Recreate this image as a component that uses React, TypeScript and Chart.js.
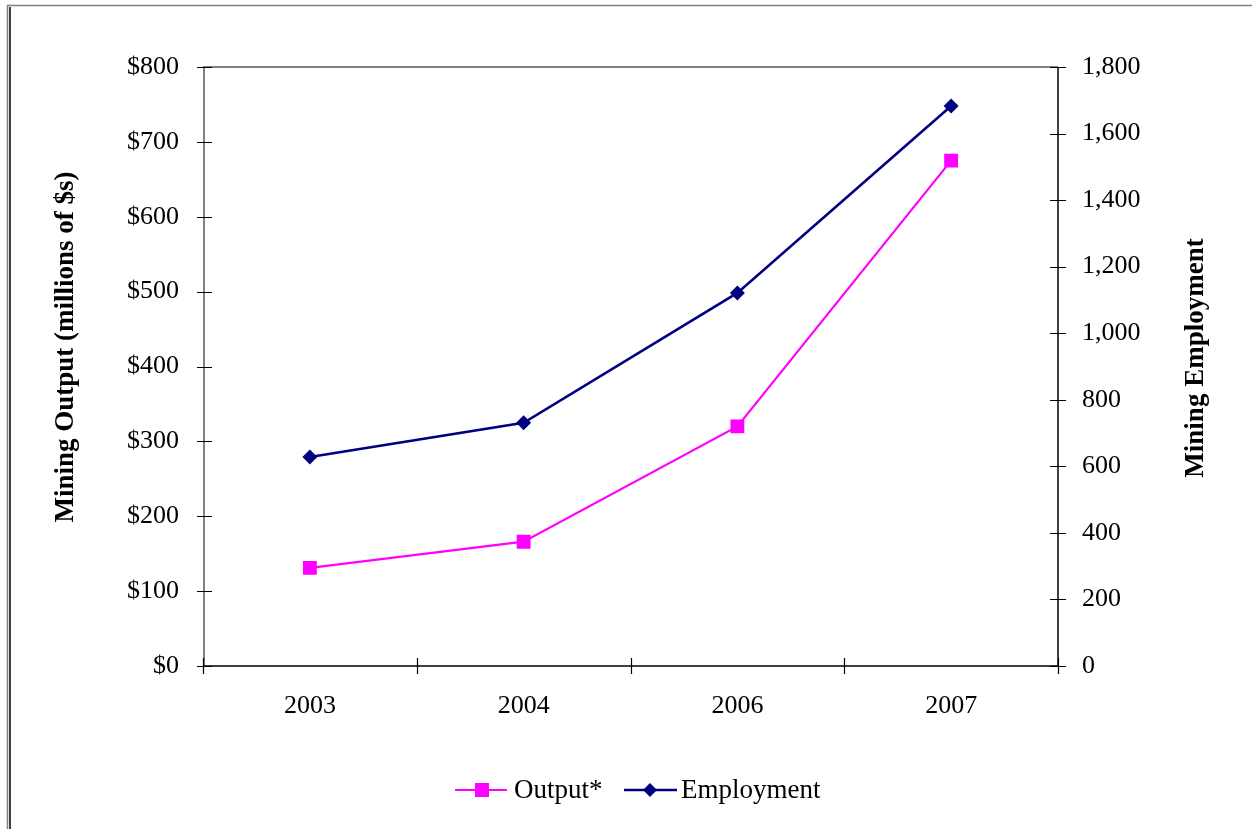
import React, { useEffect, useRef } from "react";
import { Chart, registerables } from "chart.js";

Chart.register(...registerables);

const categories: string[] = ["2003", "2004", "2006", "2007"];
const outputValues: number[] = [131, 166, 320, 675];
const employmentValues: number[] = [628, 731, 1121, 1683];
const leftTitle = "Mining Output (millions of $s)";
const rightTitle = "Mining Employment";
const outputLabel = "Output*";
const employmentLabel = "Employment";

const MAGENTA = "#FF00FF";
const NAVY = "#000080";
const FONT = "'Liberation Serif', 'Times New Roman', serif";

const decorPlugin = {
  id: "decor",
  beforeDraw(chart: any) {
    const ctx = chart.ctx;
    ctx.save();
    ctx.fillStyle = "#ffffff";
    ctx.fillRect(0, 0, chart.width, chart.height);
    // outer frame
    ctx.strokeStyle = "#7f7f7f";
    ctx.lineWidth = 1.5;
    ctx.beginPath();
    ctx.moveTo(7.5, chart.height);
    ctx.lineTo(7.5, 5.5);
    ctx.lineTo(1252, 5.5);
    ctx.stroke();
    ctx.strokeStyle = "#000000";
    ctx.lineWidth = 1.5;
    ctx.beginPath();
    ctx.moveTo(10, 7);
    ctx.lineTo(10, chart.height);
    ctx.stroke();
    ctx.restore();
  },
  afterDatasetsDraw(chart: any) {
    const ctx = chart.ctx;
    const { left, right, top, bottom } = chart.chartArea;
    const xs = chart.scales.x;
    const yl = chart.scales.y;
    const yr = chart.scales.y1;
    ctx.save();
    // plot area border (gray top / left)
    ctx.strokeStyle = "#808080";
    ctx.lineWidth = 2;
    ctx.beginPath();
    ctx.moveTo(left + 1, bottom);
    ctx.lineTo(left + 1, top);
    ctx.lineTo(right, top);
    ctx.stroke();
    // right & bottom axis lines
    ctx.strokeStyle = "#000000";
    ctx.lineWidth = 1.5;
    ctx.beginPath();
    ctx.moveTo(right, top);
    ctx.lineTo(right, bottom);
    ctx.moveTo(left, bottom);
    ctx.lineTo(right + 1, bottom);
    ctx.stroke();
    // ticks
    ctx.lineWidth = 1.2;
    ctx.beginPath();
    yl.ticks.forEach((t: any) => {
      const y = Math.round(yl.getPixelForValue(t.value)) + 0.5;
      ctx.moveTo(left - 6, y);
      ctx.lineTo(left + 9, y);
    });
    yr.ticks.forEach((t: any) => {
      const y = Math.round(yr.getPixelForValue(t.value)) + 0.5;
      ctx.moveTo(right - 8, y);
      ctx.lineTo(right + 8, y);
    });
    for (let i = 0; i <= categories.length; i++) {
      const x = Math.round(xs.getPixelForValue(i - 0.5)) + 0.5;
      ctx.moveTo(x, bottom - 8);
      ctx.lineTo(x, bottom + 8);
    }
    ctx.stroke();

    // axis titles
    ctx.fillStyle = "#000000";
    ctx.font = `bold 27px ${FONT}`;
    ctx.textAlign = "center";
    ctx.textBaseline = "middle";
    ctx.save();
    ctx.translate(66, 347);
    ctx.rotate(-Math.PI / 2);
    ctx.fillText(leftTitle, 0, 0);
    ctx.restore();
    ctx.save();
    ctx.translate(1196, 358);
    ctx.rotate(-Math.PI / 2);
    ctx.fillText(rightTitle, 0, 0);
    ctx.restore();

    // legend
    const ly = 790;
    ctx.font = `27px ${FONT}`;
    ctx.textAlign = "left";
    ctx.lineWidth = 2;
    ctx.strokeStyle = MAGENTA;
    ctx.beginPath();
    ctx.moveTo(455, ly);
    ctx.lineTo(507, ly);
    ctx.stroke();
    ctx.fillStyle = MAGENTA;
    ctx.fillRect(475, ly - 7, 14, 14);
    ctx.fillStyle = "#000000";
    ctx.fillText(outputLabel, 514, ly + 1);

    ctx.strokeStyle = NAVY;
    ctx.lineWidth = 2.5;
    ctx.beginPath();
    ctx.moveTo(624, ly);
    ctx.lineTo(677, ly);
    ctx.stroke();
    ctx.fillStyle = NAVY;
    ctx.beginPath();
    ctx.moveTo(650, ly - 7);
    ctx.lineTo(657, ly);
    ctx.lineTo(650, ly + 7);
    ctx.lineTo(643, ly);
    ctx.closePath();
    ctx.fill();
    ctx.fillStyle = "#000000";
    ctx.fillText(employmentLabel, 681, ly + 1);
    ctx.restore();
  },
};

export default function App() {
  const ref = useRef<HTMLCanvasElement>(null);
  useEffect(() => {
    if (!ref.current) return;
    const chart = new Chart(ref.current, {
      type: "line",
      data: {
        labels: categories,
        datasets: [
          {
            label: outputLabel,
            data: outputValues,
            yAxisID: "y",
            borderColor: MAGENTA,
            backgroundColor: MAGENTA,
            borderWidth: 2.2,
            pointStyle: "rect",
            pointRadius: 9.8,
            pointBorderWidth: 0,
            pointBackgroundColor: MAGENTA,
            tension: 0,
          },
          {
            label: employmentLabel,
            data: employmentValues,
            yAxisID: "y1",
            borderColor: NAVY,
            backgroundColor: NAVY,
            borderWidth: 2.6,
            pointStyle: "rectRot",
            pointRadius: 7.5,
            pointBorderWidth: 0,
            pointBackgroundColor: NAVY,
            tension: 0,
          },
        ],
      },
      options: {
        animation: false,
        responsive: false,
        maintainAspectRatio: false,
        layout: { padding: { top: 67, left: 0, right: 0, bottom: 0 } },
        plugins: {
          legend: { display: false },
          tooltip: { enabled: false },
          title: { display: false },
        },
        scales: {
          x: {
            type: "category",
            offset: true,
            grid: { display: false, drawTicks: false },
            border: { display: false },
            ticks: {
              color: "#000",
              font: { family: FONT, size: 26 },
              padding: 25,
              maxRotation: 0,
            },
            afterFit: (s: any) => {
              s.height = 829 - 666;
            },
          },
          y: {
            position: "left",
            min: 0,
            max: 800,
            grid: { display: false, drawTicks: false },
            border: { display: false },
            ticks: {
              stepSize: 100,
              color: "#000",
              font: { family: FONT, size: 26 },
              padding: 24,
              callback: (v: any) => "$" + v,
            },
            afterFit: (s: any) => {
              s.width = 203;
            },
          },
          y1: {
            position: "right",
            min: 0,
            max: 1800,
            grid: { display: false, drawTicks: false },
            border: { display: false },
            ticks: {
              stepSize: 200,
              color: "#000",
              font: { family: FONT, size: 26 },
              padding: 24,
              callback: (v: any) => Number(v).toLocaleString("en-US"),
            },
            afterFit: (s: any) => {
              s.width = 1255 - 1058;
            },
          },
        },
      },
      plugins: [decorPlugin],
    });
    return () => chart.destroy();
  }, []);
  return (
    <div style={{ position: "fixed", left: 0, top: 0, width: 1255, height: 829, background: "#fff" }}>
      <canvas ref={ref} width={1255} height={829} style={{ display: "block", width: 1255, height: 829 }} />
    </div>
  );
}
